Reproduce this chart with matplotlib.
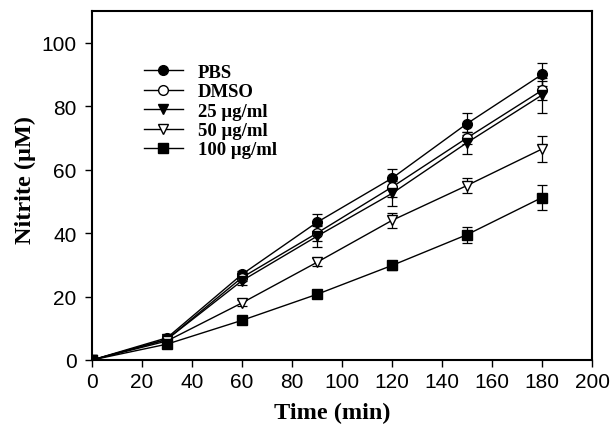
import matplotlib.pyplot as plt
import numpy as np

time = [0, 30, 60, 90, 120, 150, 180]
labels = ['PBS', 'DMSO', '25 \u03bcg/ml', '50 \u03bcg/ml', '100 \u03bcg/ml']
pbs = [0, 7.0, 27.0, 43.4, 57.3, 74.5, 90.0]
pbs_err = [0, 0.8, 1.2, 2.6, 3.0, 3.5, 3.7]
dmso = [0, 6.5, 26.0, 40.0, 54.5, 70.0, 85.0]
dmso_err = [0, 0.8, 1.2, 2.5, 3.0, 2.0, 3.0]
c25 = [0, 6.5, 25.0, 39.0, 52.5, 68.5, 83.5]
c25_err = [0, 0.8, 1.5, 3.3, 4.0, 3.5, 5.5]
c50 = [0, 6.0, 18.0, 30.8, 44.0, 55.0, 66.5]
c50_err = [0, 0.6, 1.0, 1.2, 2.4, 2.4, 4.0]
c100 = [0, 5.0, 12.5, 20.7, 29.8, 39.5, 51.2]
c100_err = [0, 0.5, 0.6, 0.8, 1.3, 2.5, 4.0]

series = [pbs, dmso, c25, c50, c100]
errs = [pbs_err, dmso_err, c25_err, c50_err, c100_err]
markers = ['o', 'o', 'v', 'v', 's']
faces = ['black', 'white', 'black', 'white', 'black']

fig = plt.figure(figsize=(6.1, 4.31), dpi=100)
ax = fig.add_axes([92/610, 1 - 361/431, 500/610, 349/431])

handles = []
for y, e, m, fc, lab in zip(series, errs, markers, faces, labels):
    h = ax.errorbar(time, y, yerr=e, color='black', marker=m, markerfacecolor=fc,
                    markeredgecolor='black', markersize=7, linewidth=1,
                    elinewidth=0.9, capsize=3.5, capthick=0.9, label=lab)
    handles.append(h[0])

ax.set_xlim(0, 200)
ax.set_ylim(0, 110)
ax.set_xticks(np.arange(0, 201, 20))
ax.set_yticks(np.arange(0, 101, 20))
ax.tick_params(direction='out', length=5, width=1, labelsize=15)
ax.tick_params(axis='y', pad=6)
for lab in ax.get_xticklabels() + ax.get_yticklabels():
    lab.set_family('Liberation Sans')
for s in ax.spines.values():
    s.set_linewidth(1.5)

ax.set_xlabel('Time (min)', family='Liberation Serif', fontweight='bold',
              fontsize=17.5)
ax.set_ylabel('Nitrite (\u03bcM)', family='Liberation Serif', fontweight='bold',
              fontsize=17.5)
ax.xaxis.set_label_coords(0.48, -0.12)
ax.yaxis.set_label_coords(-0.112, 0.52)

ax.legend(handles, labels, loc='upper left', bbox_to_anchor=(0.088, 0.87),
          borderaxespad=0, frameon=False,
          prop={'family': 'Liberation Serif', 'weight': 'bold', 'size': 13.5},
          handlelength=2.1, labelspacing=0.12, handletextpad=0.8)

fig.savefig('out.png', dpi=100)
